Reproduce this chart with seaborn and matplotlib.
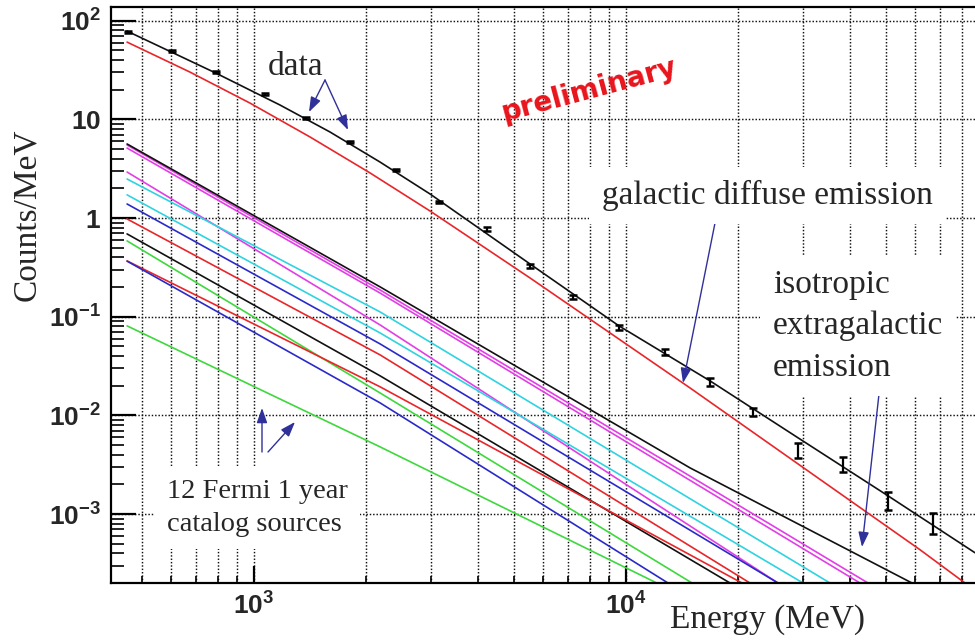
import matplotlib
matplotlib.use("Agg")
import matplotlib.pyplot as plt
import numpy as np
import pandas as pd
import seaborn as sns
from matplotlib.ticker import FixedLocator, FixedFormatter, LogLocator, NullFormatter

# ---------------- measured spectrum (counts / MeV) ----------------
data_energy = [459, 602, 790, 1070, 1380, 1811, 2409, 3142, 4230, 5520, 7210,
               9570, 12730, 16830, 21950, 28980, 38280, 50560, 66800]
data_counts = [76.9, 49.3, 30.2, 18.1, 10.3, 5.90, 3.07, 1.46, 0.776, 0.327, 0.159,
               0.0771, 0.0441, 0.0219, 0.0109, 0.00448, 0.00323, 0.00139, 0.000834]
data_error = [1.5, 1.0, 0.6, 0.4, 0.25, 0.15, 0.08, 0.045, 0.028, 0.014, 0.008,
              0.0045, 0.003, 0.002, 0.0011, 0.0008, 0.00055, 0.0003, 0.0002]

# ---------------- model components ----------------
Y_MIN, Y_MAX = 2.0e-4, 138.0
X_MIN, X_MAX = 412.0, 86740.0

total_energy = [456, 790, 1175, 1601, 2182, 2973, 5520, 9576, 16820, 29000, 50630, 86740]
total_counts = [78.6, 29.5, 14.0, 7.46, 3.70, 1.757, 0.343, 0.0808, 0.0224, 0.00593,
                0.00153, 0.000405]

galactic_energy = [456, 673, 975, 1415, 2051, 2973, 5520, 14860, 61700, 81530]
galactic_counts = [60.8, 30.2, 14.67, 6.64, 2.87, 1.181, 0.2475, 0.0190, 0.000435, Y_MIN]

isotropic_energy = [456, 2182, 14860, 58720]
isotropic_counts = [5.64, 0.201, 0.00294, Y_MIN]

# 12 catalog point sources: counts at 456 MeV, counts at 2182 MeV,
# and the energy at which each one falls to the bottom of the frame
SRC_E_LOW, SRC_E_MID = 456, 2182
source_colors = ["#e23ee6", "#e23ee6", "#e23ee6", "#2fd3e0", "#2fd3e0", "#2a2ac8",
                 "#e8262a", "#111111", "#3ed83e", "#e8262a", "#2a2ac8", "#3ed83e"]
source_counts_low = [5.51, 5.13, 2.93, 2.49, 1.72, 1.39, 0.980, 0.691, 0.587, 0.368, 0.366, 0.0808]
source_counts_mid = [0.187, 0.174, 0.0827, 0.112, 0.0686, 0.0531, 0.0411, 0.0252, 0.0169, 0.0195, 0.0134, 0.0048]
source_end_energy = [44730, 42560, 25620, 35350, 29920, 25620, 21540, 19040, 15050, 20500, 12970, 12100]

# ---------------- long-form table of all curves ----------------
rows = []
palette = {}
order = []
for i in range(len(source_colors)):
    name = f"src{i + 1}"
    for e, c in zip([SRC_E_LOW, SRC_E_MID, source_end_energy[i]],
                    [source_counts_low[i], source_counts_mid[i], Y_MIN]):
        rows.append((name, e, c))
    palette[name] = source_colors[i]
    order.append(name)
for name, es, cs, col in [("isotropic", isotropic_energy, isotropic_counts, "#111111"),
                          ("galactic", galactic_energy, galactic_counts, "#e8262a"),
                          ("total", total_energy, total_counts, "#111111")]:
    rows += [(name, e, c) for e, c in zip(es, cs)]
    palette[name] = col
    order.append(name)
curves = pd.DataFrame(rows, columns=["component", "energy", "counts"])

# ---------------- figure ----------------
sns.set_theme(style="white")
plt.rcParams.update({
    "font.family": ["Liberation Sans", "DejaVu Sans"],
    "mathtext.fontset": "custom",
    "mathtext.rm": "Liberation Sans:bold",
    "mathtext.bf": "Liberation Sans:bold",
    "mathtext.it": "Liberation Sans:bold",
    "mathtext.default": "rm",
})

W, H = 975, 642
fig = plt.figure(figsize=(W / 100, H / 100), dpi=100)
fig.patch.set_facecolor("white")
ax = fig.add_axes([110.7 / W, (H - 583) / H, (W - 110.7) / W, (583 - 7) / H])
ax.set_facecolor("white")
ax.set_xscale("log")
ax.set_yscale("log")
ax.set_xlim(X_MIN, X_MAX)
ax.set_ylim(Y_MIN, Y_MAX)

sns.lineplot(data=curves, x="energy", y="counts", hue="component", hue_order=order,
             palette=palette, estimator=None, sort=False, legend=False,
             linewidth=1.2, ax=ax)

ax.errorbar(data_energy, data_counts, yerr=data_error, fmt="none", ecolor="black",
            elinewidth=1.6, capsize=3.0, capthick=1.8, zorder=5)

# ---------------- axes, ticks, grid ----------------
ax.xaxis.set_major_locator(FixedLocator([1e3, 1e4]))
ax.xaxis.set_major_formatter(FixedFormatter([r"$10^{3}$", r"$10^{4}$"]))
ax.xaxis.set_minor_locator(LogLocator(base=10, subs=np.arange(2, 10), numticks=20))
ax.xaxis.set_minor_formatter(NullFormatter())

ax.yaxis.set_major_locator(FixedLocator([1e-3, 1e-2, 1e-1, 1, 10, 100]))
ax.yaxis.set_major_formatter(FixedFormatter([r"$10^{-3}$", r"$10^{-2}$", r"$10^{-1}$",
                                             r"$1$", r"$10$", r"$10^{2}$"]))
ax.yaxis.set_minor_locator(LogLocator(base=10, subs=np.arange(2, 10), numticks=20))
ax.yaxis.set_minor_formatter(NullFormatter())

ax.tick_params(axis="y", which="major", direction="in", length=18, width=1.6,
               pad=7, labelsize=19, left=True, right=False, color="black")
ax.tick_params(axis="y", which="minor", direction="in", length=9.4, width=1.2,
               left=True, right=False, color="black")
ax.tick_params(axis="x", which="major", direction="in", length=12, width=1.6,
               pad=7, labelsize=19, bottom=True, top=False, color="black")
ax.tick_params(axis="x", which="minor", direction="in", length=5, width=1.2,
               bottom=True, top=False, color="black")

grid_kw = dict(color="#111111", linestyle=(0, (1, 1.3)), linewidth=1.05)
ax.grid(True, axis="x", which="both", **grid_kw)
ax.grid(True, axis="y", which="major", **grid_kw)
ax.grid(False, axis="y", which="minor")
ax.set_axisbelow(True)

for side in ["left", "bottom", "top"]:
    ax.spines[side].set_linewidth(1.6)
    ax.spines[side].set_color("black")
ax.spines["right"].set_visible(False)
ax.set_xlabel("")
ax.set_ylabel("")


# ---------------- labels and annotations ----------------
def fpx(x, y):
    """Figure fraction from a pixel position measured from the top-left corner."""
    return x / W, 1 - y / H


serif = "Liberation Serif"
box = dict(facecolor="white", edgecolor="none", pad=9)

fig.text(*fpx(670, 628), "Energy (MeV)", fontsize=24, family=serif,
         ha="left", va="baseline")
fig.text(*fpx(27, 215), "Counts/MeV", fontsize=24, family=serif,
         rotation=90, ha="center", va="center")

fig.text(*fpx(268, 75), "data", fontsize=24, family=serif, ha="left", va="baseline")
fig.text(*fpx(602, 204), "galactic diffuse emission", fontsize=24, family=serif,
         ha="left", va="baseline", bbox=box, zorder=6)
fig.text(*fpx(773, 269), "isotropic\nextragalactic\nemission", fontsize=24,
         family=serif, ha="left", va="top", linespacing=1.48, bbox=box, zorder=6)
fig.text(*fpx(167, 478.5), "12 Fermi 1 year\ncatalog sources", fontsize=20.5,
         family=serif, ha="left", va="top", linespacing=1.43, bbox=box, zorder=6)
fig.text(*fpx(589, 90), "preliminary", fontsize=20, family="DejaVu Sans",
         fontweight="bold", color="#e8141c", rotation=15, rotation_mode="anchor",
         ha="center", va="center")

arrow_kw = dict(arrowstyle="-|>,head_length=0.9,head_width=0.32", color="#30309a",
                lw=1.0, shrinkA=0, shrinkB=0, mutation_scale=10)
arrows = [((325, 80), (309, 112)), ((325, 80), (348, 130)),
          ((717, 213), (683, 383)), ((880, 385), (862, 547)),
          ((262, 452), (262, 408)), ((268, 452), (295, 422))]
for (tx, ty), (hx, hy) in arrows:
    ax.annotate("", xy=(hx, H - hy), xytext=(tx, H - ty),
                xycoords="figure pixels", textcoords="figure pixels",
                arrowprops=arrow_kw, zorder=7)

fig.savefig("out.png", dpi=100)
